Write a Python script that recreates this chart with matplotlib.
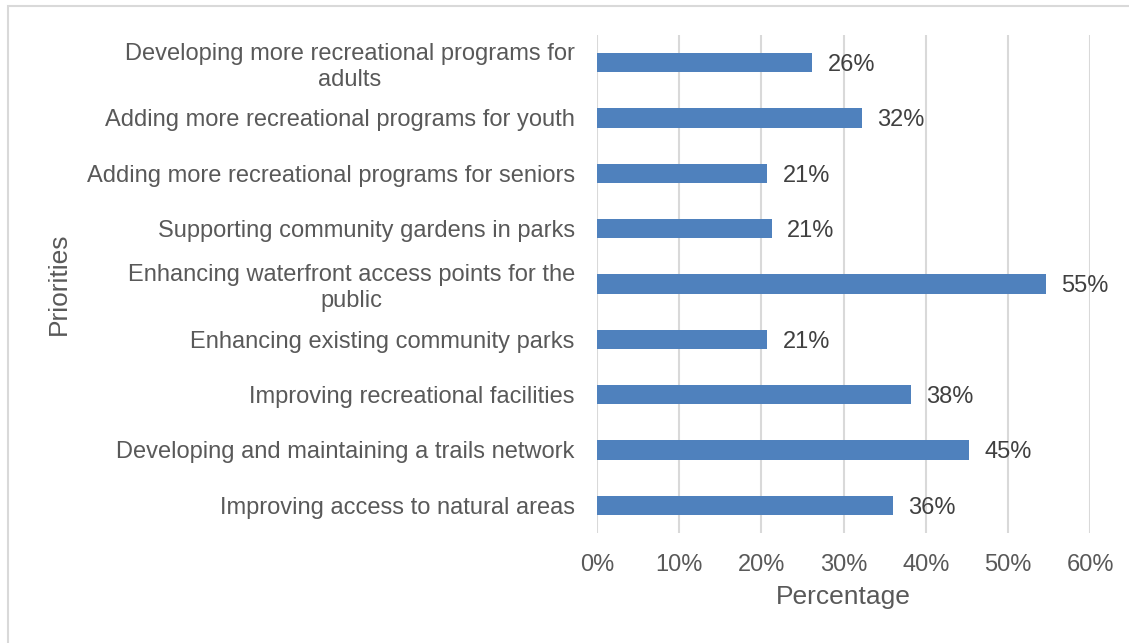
import matplotlib.pyplot as plt
from matplotlib.patches import Rectangle
from matplotlib.ticker import FuncFormatter

plt.rcParams['font.family'] = ['Liberation Sans', 'DejaVu Sans']

# survey priorities, listed bottom to top
priorities = [
    'Improving access to natural areas',
    'Developing and maintaining a trails network',
    'Improving recreational facilities',
    'Enhancing existing community parks',
    'Enhancing waterfront access points for the\npublic',
    'Supporting community gardens in parks',
    'Adding more recreational programs for seniors',
    'Adding more recreational programs for youth',
    'Developing more recreational programs for\nadults',
]
percent = [36.0, 45.3, 38.2, 20.7, 54.6, 21.3, 20.7, 32.2, 26.2]
xticks = [0, 10, 20, 30, 40, 50, 60]

text_col = '#595959'
bar_col = '#4F81BD'
grid_col = '#D9D9D9'

fig = plt.figure(figsize=(11.29, 6.43), dpi=100)
ax = fig.add_axes([0.5288, 0.1711, 0.4367, 0.7745])

ypos = range(len(priorities))
ax.barh(ypos, percent, height=0.35, color=bar_col, zorder=3)

for y, v in zip(ypos, percent):
    ax.annotate(f'{v:.0f}%', (v, y), xytext=(11, 0), textcoords='offset points',
                ha='left', va='center_baseline', fontsize=17, color='#404040')

ax.set_xlim(0, 60)
ax.set_ylim(-0.5, len(priorities) - 0.5)
ax.set_xticks(xticks)
ax.xaxis.set_major_formatter(FuncFormatter(lambda v, p: f'{v:.0f}%'))
ax.set_yticks(list(ypos))
ax.set_yticklabels(priorities)
for lbl in ax.get_yticklabels():
    lbl.set_multialignment('center')

ax.tick_params(axis='both', length=0, labelsize=17, colors=text_col)
ax.tick_params(axis='y', pad=16)
ax.tick_params(axis='x', pad=15)
ax.grid(axis='x', color=grid_col, linewidth=1.5, zorder=0)
for s in ax.spines.values():
    s.set_visible(False)

ax.set_xlabel('Percentage', fontsize=19, color=text_col)
ax.set_ylabel('Priorities', fontsize=19, color=text_col)
ax.xaxis.set_label_coords(0.5, -0.105)
ax.yaxis.set_label_coords(-1.067, 0.5)

# light frame around the chart area
fig.patches.append(Rectangle((8 / 1129, -0.1), 1.2, 1.1 - 6 / 643,
                             transform=fig.transFigure, fill=False,
                             edgecolor=grid_col, linewidth=1.5))

fig.savefig('out.png', dpi=100)
